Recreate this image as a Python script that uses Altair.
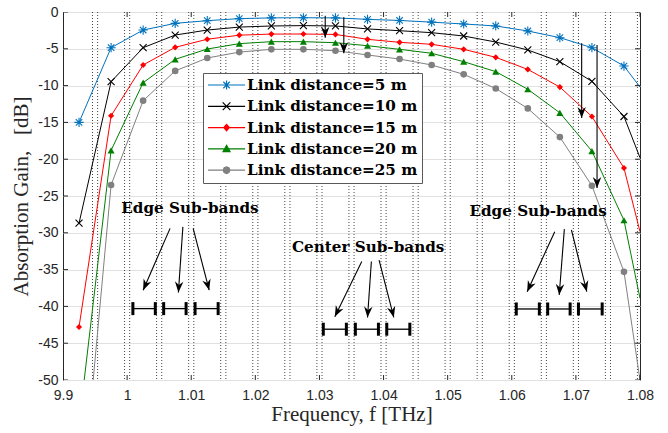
import math
import altair as alt
import pandas as pd

# ---------------- data ----------------
freq = [0.9925, 0.9975, 1.0025, 1.0075, 1.0125, 1.0175, 1.0225, 1.0275, 1.0325, 1.0375,
        1.0425, 1.0475, 1.0525, 1.0575, 1.0625, 1.0675, 1.0725, 1.0775, 1.08]
# the last entry (1.08 THz) is where each curve meets the right frame; it carries no marker
has_marker = [1] * 18 + [0]

gain_5m = [-15.0, -4.85, -2.45, -1.54, -1.18, -0.9, -0.8, -0.78, -0.8, -1.0,
           -1.15, -1.38, -1.63, -1.9, -2.58, -3.49, -4.85, -7.34, -10.2]
gain_10m = [-28.7, -9.47, -4.85, -3.13, -2.45, -2.05, -1.9, -1.85, -1.9, -2.3,
            -2.54, -2.81, -3.26, -4.08, -5.16, -6.75, -9.42, -14.2, -19.8]
gain_15m = [-42.8, -14.1, -7.2, -4.8, -3.7, -3.15, -3.0, -2.99, -3.05, -3.71,
            -4.12, -4.39, -5.07, -6.16, -7.8, -10.2, -14.2, -21.2, -29.85]
gain_20m = [-56.0, -18.8, -9.6, -6.43, -5.03, -4.3, -4.03, -4.03, -4.17, -4.58,
            -5.07, -5.61, -6.75, -8.1, -10.5, -13.7, -18.9, -28.3, -38.9]
gain_25m = [-71.0, -23.5, -12.05, -8.0, -6.25, -5.45, -5.07, -5.07, -5.26, -5.84,
            -6.39, -7.2, -8.47, -10.4, -13.1, -17.0, -23.6, -35.3, -50.0]

labels = ["Link distance=5 m", "Link distance=10 m", "Link distance=15 m",
          "Link distance=20 m", "Link distance=25 m"]
series_values = [gain_5m, gain_10m, gain_15m, gain_20m, gain_25m]

# sub-band guard edges (vertical dotted lines)
guard_lines = [0.9946, 0.9954, 0.9996, 1.0004, 1.0046, 1.0054, 1.0096, 1.0104,
               1.0146, 1.0154, 1.0196, 1.0204, 1.0246, 1.0254, 1.0296, 1.0304,
               1.0346, 1.0354, 1.0396, 1.0404, 1.0446, 1.0454, 1.0496, 1.0504,
               1.0546, 1.0554, 1.0596, 1.0604, 1.0646, 1.0654, 1.0696, 1.0704,
               1.0746, 1.0754, 1.0796]

x_ticks = [0.99, 1.00, 1.01, 1.02, 1.03, 1.04, 1.05, 1.06, 1.07, 1.08]
y_ticks = [-50, -45, -40, -35, -30, -25, -20, -15, -10, -5, 0]

# annotation: sub-band bars
bar_start = [1.0009, 1.0057, 1.0106, 1.0306, 1.0356, 1.0405, 1.0607, 1.0656, 1.0704]
bar_end = [1.0044, 1.0092, 1.0142, 1.0342, 1.0392, 1.0441, 1.0643, 1.0691, 1.0741]
bar_level = [-40.3, -40.3, -40.3, -43.1, -43.1, -43.1, -40.35, -40.35, -40.35]

# annotation: arrows (start -> tip)
arrow_f0 = [1.0309, 1.0338, 1.0709, 1.0733,
            1.0067, 1.0087, 1.0103, 1.0366, 1.0381, 1.0393, 1.0667, 1.0682, 1.0693]
arrow_g0 = [-0.5, -0.7, -4.25, -4.5,
            -29.4, -29.2, -29.4, -33.9, -33.9, -33.7, -29.85, -29.5, -29.6]
arrow_f1 = [1.0309, 1.0338, 1.0709, 1.0733,
            1.0025, 1.0080, 1.0128, 1.0324, 1.0375, 1.0416, 1.0624, 1.0674, 1.0717]
arrow_g1 = [-3.5, -5.6, -14.4, -23.9,
            -37.8, -38.1, -37.8, -41.4, -41.5, -41.5, -38.0, -38.45, -38.0]

# annotation: texts
note_text = ["Edge Sub-bands", "Center Sub-bands", "Edge Sub-bands"]
note_f = [1.0098, 1.0376, 1.0641]
note_g = [-26.6, -31.9, -27.1]

# ---------------- styling ----------------
W, H = 577, 368
X0, X1 = 0.99, 1.08
Y0, Y1 = -50.0, 0.0
colors = ["#0072BD", "#000000", "#FF0000", "#008000", "#808080"]
AX = "#262626"

xs = alt.Scale(domain=[X0, X1], nice=False, zero=False)
ys = alt.Scale(domain=[Y0, Y1], nice=False, zero=False)

rows = []
for lab, vals in zip(labels, series_values):
    for f, g, m in zip(freq, vals, has_marker):
        rows.append({"f": f, "gain": g, "series": lab, "marker": m})
df = pd.DataFrame(rows)

x_axis = alt.Axis(values=x_ticks,
                  labelExpr="datum.value < 0.995 ? '9.9' : (datum.value < 1.005 ? '1' : format(datum.value, '.2f'))",
                  title="Frequency, f [THz]", grid=False, ticks=False, domain=False,
                  labelFont="Liberation Sans", labelFontSize=14, labelColor=AX, labelPadding=8,
                  labelFlush=False, labelOverlap=False,
                  titleFont="Liberation Serif", titleFontSize=21, titleFontWeight="normal",
                  titleColor=AX, titlePadding=1)
y_axis = alt.Axis(values=y_ticks,
                  labelExpr="datum.value == 0 ? '0' : '-' + abs(datum.value)",
                  title="Absorption Gain,\u00a0\u00a0\u00a0[dB]", grid=True, gridColor="#e1e1e1",
                  gridWidth=1, ticks=False, domain=False,
                  labelFont="Liberation Sans", labelFontSize=14, labelColor=AX, labelPadding=5,
                  labelOverlap=False,
                  titleFont="Liberation Serif", titleFontSize=21, titleFontWeight="normal",
                  titleColor=AX, titlePadding=6)


# every layer carries the same axis definition (an axis=None layer would hide the shared axis)
def X(field):
    return alt.X(field, type="quantitative", scale=xs, axis=x_axis)


def Y(field):
    return alt.Y(field, type="quantitative", scale=ys, axis=y_axis)


# vertical dotted guard lines
guards = alt.Chart(pd.DataFrame({"f": guard_lines})).mark_rule(
    color="#333333", strokeWidth=0.9, strokeDash=[1, 2]
).encode(x=X("f"))

# curves and markers, one layer per series
marker_shapes = ["M-1,0L1,0M0,-1L0,1M-0.7,-0.7L0.7,0.7M-0.7,0.7L0.7,-0.7",
                 "M-1,-1L1,1M-1,1L1,-1",
                 "diamond", "triangle-up", "circle"]
marker_sizes = [85, 49, 38, 50, 44]
marker_filled = [False, False, True, True, True]
line_layers, point_layers = [], []
for lab, col, shp, sz, fl in zip(labels, colors, marker_shapes, marker_sizes, marker_filled):
    line_layers.append(
        alt.Chart(df).transform_filter(f"datum.series == '{lab}'").mark_line(
            clip=True, strokeWidth=1, color=col
        ).encode(x=X("f"), y=Y("gain"), order="f:Q")
    )
    point_layers.append(
        alt.Chart(df).transform_filter(
            f"datum.series == '{lab}' && datum.marker == 1"
        ).mark_point(shape=shp, size=sz, filled=fl, color=col, opacity=1,
                     strokeWidth=1.1, clip=True).encode(x=X("f"), y=Y("gain"))
    )

# legend (symbols = line + marker)
legend_paths = [
    "M-1,0L4.3,0M1.65,-0.65L1.65,0.65M1.19,-0.46L2.11,0.46M1.19,0.46L2.11,-0.46",
    "M-1,0L4.3,0M1.1,-0.55L2.2,0.55M1.1,0.55L2.2,-0.55",
    "M-1,0L4.3,0M1.65,-0.45L2.05,0L1.65,0.45L1.25,0Z",
    "M-1,0L4.3,0M1.65,-0.5L2.15,0.4L1.15,0.4Z",
    "M-1,0L4.3,0M1.17,0L1.31,-0.34L1.65,-0.48L1.99,-0.34L2.13,0L1.99,0.34L1.65,0.48L1.31,0.34Z",
]
leg = alt.Legend(title=None, orient="none", legendX=140, legendY=61, direction="vertical",
                 labelFont="DejaVu Serif", labelFontWeight="bold", labelFontSize=15.2,
                 labelColor="black", labelLimit=0, labelOffset=24,
                 symbolSize=196, symbolStrokeWidth=1.2, symbolOpacity=1,
                 rowPadding=4.3, padding=4, strokeColor="#5a5a5a", fillColor="white")
legend_layer = alt.Chart(pd.DataFrame({"series": labels, "f": [1.03] * 5, "g": [-20.0] * 5})).mark_point(
    filled=True, opacity=0
).encode(
    x=X("f"), y=Y("g"),
    color=alt.Color("series:N", scale=alt.Scale(domain=labels, range=colors), legend=leg),
    stroke=alt.Stroke("series:N", scale=alt.Scale(domain=labels, range=colors), legend=leg),
    shape=alt.Shape("series:N", scale=alt.Scale(domain=labels, range=legend_paths), legend=leg),
)

# frame ticks (inward): ticks centred on the frame, outer half clipped
tick_style = dict(color=AX, size=10, thickness=1, clip=True, opacity=1)
xt = pd.DataFrame({"f": x_ticks, "lo": [Y0] * len(x_ticks), "hi": [Y1] * len(x_ticks)})
yt = pd.DataFrame({"g": y_ticks, "lo": [X0] * len(y_ticks), "hi": [X1] * len(y_ticks)})
ticks_bottom = alt.Chart(xt).mark_tick(orient="vertical", **tick_style).encode(x=X("f"), y=Y("lo"))
ticks_top = alt.Chart(xt).mark_tick(orient="vertical", **tick_style).encode(x=X("f"), y=Y("hi"))
ticks_left = alt.Chart(yt).mark_tick(orient="horizontal", **tick_style).encode(y=Y("g"), x=X("lo"))
ticks_right = alt.Chart(yt).mark_tick(orient="horizontal", **tick_style).encode(y=Y("g"), x=X("hi"))

# sub-band bars
bars_df = pd.DataFrame({"s": bar_start, "e": bar_end, "g": bar_level})
bar_lines = alt.Chart(bars_df).mark_rule(color="black", strokeWidth=1.3).encode(
    x=X("s"), x2="e", y=Y("g"))
caps_df = pd.DataFrame({"f": bar_start + bar_end, "g": bar_level + bar_level})
bar_caps = alt.Chart(caps_df).mark_tick(orient="vertical", color="black", thickness=3, size=13,
                                        opacity=1).encode(x=X("f"), y=Y("g"))

# arrows
ang = []
for a0, b0, a1, b1 in zip(arrow_f0, arrow_g0, arrow_f1, arrow_g1):
    dx = (a1 - a0) * W / (X1 - X0)
    dy = -(b1 - b0) * H / (Y1 - Y0)
    ang.append(math.degrees(math.atan2(dx, -dy)) % 360)
arr_df = pd.DataFrame({"f0": arrow_f0, "g0": arrow_g0, "f1": arrow_f1, "g1": arrow_g1, "ang": ang})
shafts = alt.Chart(arr_df).mark_rule(color="black", strokeWidth=1.1).encode(
    x=X("f0"), y=Y("g0"), x2="f1", y2="g1")
heads = alt.Chart(arr_df).mark_point(
    shape="M0,0L0.85,2.2L0,1.5L-0.85,2.2Z", filled=True, color="black", size=100, opacity=1
).encode(x=X("f1"), y=Y("g1"), angle=alt.Angle("ang:Q", scale=None))

notes = alt.Chart(pd.DataFrame({"t": note_text, "f": note_f, "g": note_g})).mark_text(
    font="DejaVu Serif", fontWeight="bold", fontSize=15.2, color="black",
    align="center", baseline="middle"
).encode(x=X("f"), y=Y("g"), text="t:N")

chart = alt.layer(
    guards, *line_layers, *point_layers, legend_layer,
    ticks_bottom, ticks_top, ticks_left, ticks_right,
    bar_lines, bar_caps, shafts, heads, notes,
).properties(
    width=W, height=H,
    padding={"left": 63, "top": 12, "right": 28, "bottom": 53},
    autosize=alt.AutoSizeParams(type="none"),
    background="white",
).configure_view(stroke=AX, strokeWidth=1)

chart.save("out.html", embed_options={"renderer": "svg", "actions": False})
